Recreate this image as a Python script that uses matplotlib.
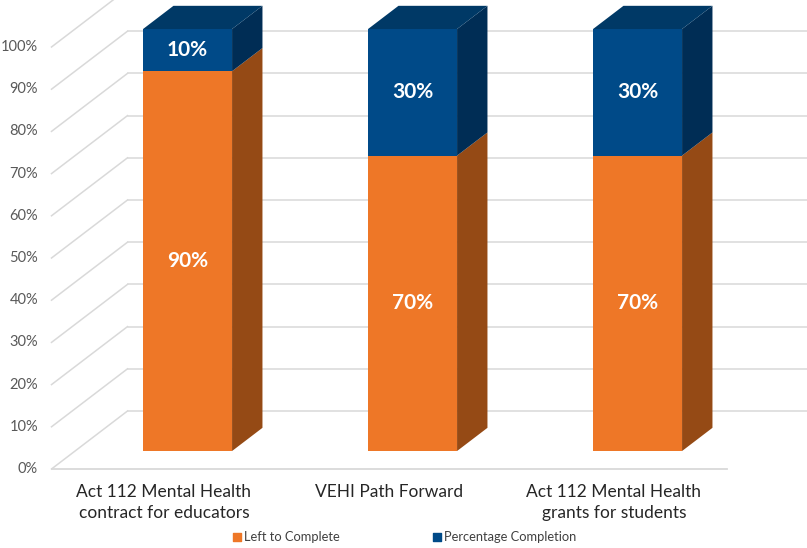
import matplotlib
matplotlib.use("Agg")
import matplotlib.pyplot as plt
from matplotlib.patches import Polygon
import numpy as np

categories = ["Act 112 Mental Health\ncontract for educators",
              "VEHI Path Forward",
              "Act 112 Mental Health\ngrants for students"]
left_to_complete = [90, 70, 70]
percentage_completion = [10, 30, 30]
y_ticks = [0, 10, 20, 30, 40, 50, 60, 70, 80, 90, 100]
y_tick_labels = [f"{v}%" for v in y_ticks]
series_names = ["Left to Complete", "Percentage Completion"]

W, H = 807, 548
fig = plt.figure(figsize=(W / 100, H / 100), dpi=100)
ax = fig.add_axes([0, 0, 1, 1])
ax.set_axis_off()

# pixel-ish geometry -> data coordinates
px_per_x = 225.0
px_per_y = 4.22
x0_px, y0_px = 164.0, 469.0
ax.set_xlim((0 - x0_px) / px_per_x, (W - x0_px) / px_per_x)
ax.set_ylim(-(H - y0_px) / px_per_y, y0_px / px_per_y)

ddx, ddy = 76 / px_per_x, 58 / px_per_y   # full depth vector
bar_front, bar_back = 0.31, 0.71           # bar depth positions
bar_w = 89 / px_per_x

grid_c = "#D9D9D9"
n = len(categories)
xl, xr = -0.5, n - 0.5

# back wall gridlines + side wall diagonals
for v in y_ticks:
    ax.plot([xl + ddx, ax.get_xlim()[1]], [v + ddy, v + ddy], color=grid_c, lw=1.1, zorder=1)
    ax.plot([xl, xl + ddx], [v, v + ddy], color=grid_c, lw=1.1, zorder=1)
# floor front edge
ax.plot([xl, xr], [0, 0], color=grid_c, lw=1.3, zorder=1)

# tick labels
for v, lab in zip(y_ticks, y_tick_labels):
    ax.text((38 - x0_px) / px_per_x, v, lab, ha="right", va="center",
            fontsize=10.5, color="#595959", family="Lato")

colors = {
    "orange": ("#EE7727", "#954A15", "#B85F22"),
    "blue": ("#004A88", "#002D55", "#003966"),
}

fx, fy = bar_front * ddx, bar_front * ddy
bdx, bdy = (bar_back - bar_front) * ddx, (bar_back - bar_front) * ddy
x = np.arange(n)

series = [(left_to_complete, "orange"), (percentage_completion, "blue")]
bottoms = np.zeros(n)
for vals, cname in series:
    front, side, top = colors[cname]
    vals = np.array(vals, dtype=float)
    bars = ax.bar(x + fx, vals, width=bar_w, bottom=bottoms + fy,
                  color=front, zorder=3, linewidth=0)
    for i, (b, val) in enumerate(zip(bottoms, vals)):
        xa = x[i] + fx - bar_w / 2
        xb = xa + bar_w
        yb = b + fy
        yt = b + val + fy
        ax.add_patch(Polygon([(xb, yb), (xb + bdx, yb + bdy), (xb + bdx, yt + bdy), (xb, yt)],
                             closed=True, facecolor=side, edgecolor="none", zorder=3))
        ax.text(x[i] + fx, (yb + yt) / 2, f"{int(val)}%", ha="center", va="center",
                color="white", fontsize=15, fontweight="bold", family="Lato", zorder=5)
    bottoms = bottoms + vals

# top faces
_, _, top_c = colors["blue"]
for i in range(n):
    xa = x[i] + fx - bar_w / 2
    xb = xa + bar_w
    yt = bottoms[i] + fy
    ax.add_patch(Polygon([(xa, yt), (xb, yt), (xb + bdx, yt + bdy), (xa + bdx, yt + bdy)],
                         closed=True, facecolor=top_c, edgecolor="none", zorder=3))

# category labels
for i, lab in enumerate(categories):
    ax.text(x[i], (y0_px - 484) / px_per_y, lab, ha="center", va="top",
            fontsize=12.5, color="#262626", family="Lato", linespacing=1.4)

# legend
leg_y = (y0_px - 537) / px_per_y
for (name, cname, px) in [(series_names[0], "orange", 233), (series_names[1], "blue", 433)]:
    xs = (px - x0_px) / px_per_x
    ax.scatter([xs + 4 / px_per_x], [leg_y], marker="s", s=40, color=colors[cname][0], zorder=5)
    ax.text(xs + 11 / px_per_x, leg_y, name, ha="left", va="center",
            fontsize=9.3, color="#404040", family="Lato")

fig.savefig("out.png", dpi=100)
